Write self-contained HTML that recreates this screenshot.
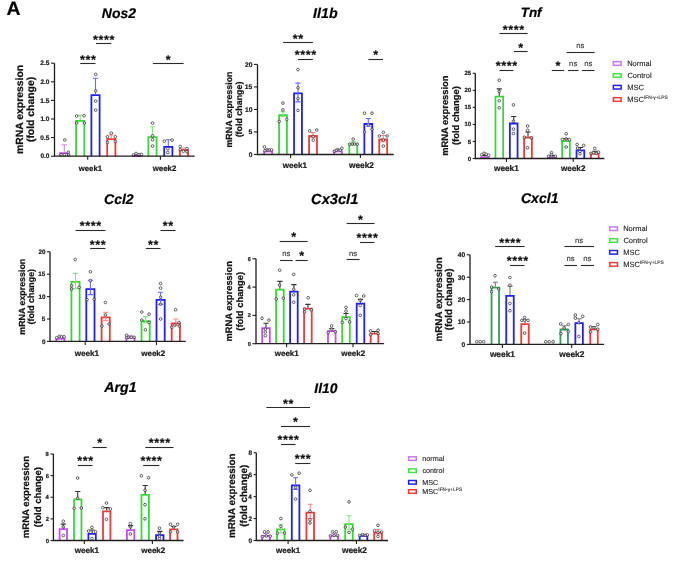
<!DOCTYPE html>
<html><head><meta charset="utf-8"><style>
html,body{margin:0;padding:0;background:#fff;width:685px;height:564px;overflow:hidden}
svg{display:block;font-family:"Liberation Sans",sans-serif;will-change:transform;text-rendering:geometricPrecision}
</style></head><body>
<svg width="685" height="564" viewBox="0 0 685 564" font-family="Liberation Sans, sans-serif">
<text stroke="#000" stroke-width="0.22" x="6.51" y="15.19" font-size="19.40" font-weight="bold" fill="#000">A</text>
<path d="M60.20 156.20V153.10H68.40V156.20" fill="#fff" stroke="#c64cf2" stroke-width="1.8"/>
<path d="M76.10 156.20V120.90H84.30V156.20" fill="#fff" stroke="#3cd63c" stroke-width="1.8"/>
<path d="M91.40 156.20V95.20H99.60V156.20" fill="#fff" stroke="#2222ea" stroke-width="1.8"/>
<path d="M107.20 156.20V139.20H115.40V156.20" fill="#fff" stroke="#ee3b3b" stroke-width="1.8"/>
<path d="M133.00 156.20V156.00H141.20V156.20" fill="#fff" stroke="#c64cf2" stroke-width="1.8"/>
<path d="M148.40 156.20V137.20H156.60V156.20" fill="#fff" stroke="#3cd63c" stroke-width="1.8"/>
<path d="M164.20 156.20V146.90H172.40V156.20" fill="#fff" stroke="#2222ea" stroke-width="1.8"/>
<path d="M179.80 156.20V150.20H188.00V156.20" fill="#fff" stroke="#ee3b3b" stroke-width="1.8"/>
<path d="M64.30 144.70V152.20M61.70 144.70H66.90" stroke="#d58cf2" stroke-width="1.1" fill="none"/>
<path d="M80.20 115.40V120.00M77.60 115.40H82.80" stroke="#86e486" stroke-width="1.1" fill="none"/>
<path d="M95.50 78.30V94.30M92.90 78.30H98.10" stroke="#6b6bf0" stroke-width="1.1" fill="none"/>
<path d="M111.30 135.00V138.30M108.70 135.00H113.90" stroke="#f28a8a" stroke-width="1.1" fill="none"/>
<path d="M137.10 154.30V155.10M134.50 154.30H139.70" stroke="#d58cf2" stroke-width="1.1" fill="none"/>
<path d="M152.50 126.70V136.30M149.90 126.70H155.10" stroke="#86e486" stroke-width="1.1" fill="none"/>
<path d="M168.30 139.70V146.00M165.70 139.70H170.90" stroke="#6b6bf0" stroke-width="1.1" fill="none"/>
<path d="M183.90 148.00V149.30M181.30 148.00H186.50" stroke="#f28a8a" stroke-width="1.1" fill="none"/>
<g fill="#fff" fill-opacity="0.6" stroke="#333" stroke-width="0.75"><circle cx="64.80" cy="139.90" r="1.35"/><circle cx="61.00" cy="154.60" r="1.35"/><circle cx="64.50" cy="154.80" r="1.35"/><circle cx="68.30" cy="152.20" r="1.35"/><circle cx="68.60" cy="155.00" r="1.35"/><circle cx="76.60" cy="116.00" r="1.35"/><circle cx="84.10" cy="115.70" r="1.35"/><circle cx="76.60" cy="123.00" r="1.35"/><circle cx="84.40" cy="123.00" r="1.35"/><circle cx="95.70" cy="74.40" r="1.35"/><circle cx="95.70" cy="90.80" r="1.35"/><circle cx="95.70" cy="101.10" r="1.35"/><circle cx="95.70" cy="110.10" r="1.35"/><circle cx="111.30" cy="133.10" r="1.35"/><circle cx="107.50" cy="136.80" r="1.35"/><circle cx="115.30" cy="136.80" r="1.35"/><circle cx="107.50" cy="142.40" r="1.35"/><circle cx="115.30" cy="141.40" r="1.35"/><circle cx="133.40" cy="155.00" r="1.35"/><circle cx="136.00" cy="153.50" r="1.35"/><circle cx="139.10" cy="154.50" r="1.35"/><circle cx="141.50" cy="154.40" r="1.35"/><circle cx="152.60" cy="123.10" r="1.35"/><circle cx="152.60" cy="135.90" r="1.35"/><circle cx="152.60" cy="139.70" r="1.35"/><circle cx="152.60" cy="146.10" r="1.35"/><circle cx="164.30" cy="141.20" r="1.35"/><circle cx="172.10" cy="140.10" r="1.35"/><circle cx="167.90" cy="148.60" r="1.35"/><circle cx="167.90" cy="152.40" r="1.35"/><circle cx="180.20" cy="146.50" r="1.35"/><circle cx="187.00" cy="148.60" r="1.35"/><circle cx="180.20" cy="149.70" r="1.35"/><circle cx="187.00" cy="151.80" r="1.35"/><circle cx="183.40" cy="151.20" r="1.35"/></g>
<path d="M54.50 63.20V156.20H194.70" stroke="#1e1e1e" stroke-width="1.3" fill="none"/>
<path d="M51.00 156.20H54.50" stroke="#1e1e1e" stroke-width="1.1"/>
<text stroke="#222" stroke-width="0.22" x="40.43" y="158.44" font-size="6.50" font-weight="bold" fill="#222">0.0</text>
<path d="M51.00 137.60H54.50" stroke="#1e1e1e" stroke-width="1.1"/>
<text stroke="#222" stroke-width="0.22" x="40.33" y="139.84" font-size="6.50" font-weight="bold" fill="#222">0.5</text>
<path d="M51.00 119.00H54.50" stroke="#1e1e1e" stroke-width="1.1"/>
<text stroke="#222" stroke-width="0.22" x="40.43" y="121.24" font-size="6.50" font-weight="bold" fill="#222">1.0</text>
<path d="M51.00 100.40H54.50" stroke="#1e1e1e" stroke-width="1.1"/>
<text stroke="#222" stroke-width="0.22" x="40.33" y="102.61" font-size="6.50" font-weight="bold" fill="#222">1.5</text>
<path d="M51.00 81.80H54.50" stroke="#1e1e1e" stroke-width="1.1"/>
<text stroke="#222" stroke-width="0.22" x="40.43" y="84.04" font-size="6.50" font-weight="bold" fill="#222">2.0</text>
<path d="M51.00 63.20H54.50" stroke="#1e1e1e" stroke-width="1.1"/>
<text stroke="#222" stroke-width="0.22" x="40.33" y="65.44" font-size="6.50" font-weight="bold" fill="#222">2.5</text>
<path d="M87.70 156.20V159.70" stroke="#1e1e1e" stroke-width="1.1"/>
<path d="M160.40 156.20V159.70" stroke="#1e1e1e" stroke-width="1.1"/>
<text stroke="#1a1a1a" stroke-width="0.22" x="78.80" y="170.56" font-size="7.73" font-weight="bold" fill="#1a1a1a">week1</text>
<text stroke="#1a1a1a" stroke-width="0.22" x="152.70" y="170.61" font-size="7.87" font-weight="bold" fill="#1a1a1a">week2</text>
<text stroke="#000" stroke-width="0.22" x="101.82" y="17.76" font-size="13.95" font-weight="bold" font-style="italic" fill="#000">Nos2</text>
<text stroke="#111" stroke-width="0.22" transform="translate(22.70,154.02) rotate(-90)" x="0" y="0" font-size="10.40" font-weight="bold" fill="#111">mRNA expression</text>
<text stroke="#111" stroke-width="0.22" transform="translate(34.10,142.06) rotate(-90)" x="0" y="0" font-size="10.40" font-weight="bold" fill="#111">(fold change)</text>
<path d="M80.20 63.50H95.50" stroke="#2a2a2a" stroke-width="1.1"/>
<text stroke="#111" stroke-width="0.22" x="79.90" y="63.51" font-size="12.50" font-weight="bold" fill="#111" letter-spacing="0.64">***</text>
<path d="M96.00 43.50H111.30" stroke="#2a2a2a" stroke-width="1.1"/>
<text stroke="#111" stroke-width="0.22" x="92.97" y="43.51" font-size="12.50" font-weight="bold" fill="#111" letter-spacing="0.64">****</text>
<path d="M152.90 63.50H183.60" stroke="#2a2a2a" stroke-width="1.1"/>
<text stroke="#111" stroke-width="0.22" x="165.81" y="63.51" font-size="12.50" font-weight="bold" fill="#111" letter-spacing="0.64">*</text>
<path d="M264.15 154.50V151.30H272.05V154.50" fill="#fff" stroke="#c64cf2" stroke-width="1.8"/>
<path d="M279.05 154.50V115.10H286.95V154.50" fill="#fff" stroke="#3cd63c" stroke-width="1.8"/>
<path d="M294.05 154.50V93.40H301.95V154.50" fill="#fff" stroke="#2222ea" stroke-width="1.8"/>
<path d="M309.05 154.50V136.00H316.95V154.50" fill="#fff" stroke="#ee3b3b" stroke-width="1.8"/>
<path d="M333.95 154.50V151.30H341.85V154.50" fill="#fff" stroke="#c64cf2" stroke-width="1.8"/>
<path d="M349.35 154.50V144.10H357.25V154.50" fill="#fff" stroke="#3cd63c" stroke-width="1.8"/>
<path d="M364.35 154.50V124.00H372.25V154.50" fill="#fff" stroke="#2222ea" stroke-width="1.8"/>
<path d="M379.25 154.50V139.50H387.15V154.50" fill="#fff" stroke="#ee3b3b" stroke-width="1.8"/>
<path d="M268.10 149.00V151.80M265.50 149.00H270.70M265.50 151.80H270.70" stroke="#d58cf2" stroke-width="1.1" fill="none"/>
<path d="M283.00 111.80V116.60M280.40 111.80H285.60M280.40 116.60H285.60" stroke="#86e486" stroke-width="1.1" fill="none"/>
<path d="M298.00 83.10V101.90M295.40 83.10H300.60M295.40 101.90H300.60" stroke="#6b6bf0" stroke-width="1.1" fill="none"/>
<path d="M313.00 132.60V137.60M310.40 132.60H315.60M310.40 137.60H315.60" stroke="#f28a8a" stroke-width="1.1" fill="none"/>
<path d="M337.90 149.50V151.30M335.30 149.50H340.50M335.30 151.30H340.50" stroke="#d58cf2" stroke-width="1.1" fill="none"/>
<path d="M353.30 141.50V144.90M350.70 141.50H355.90M350.70 144.90H355.90" stroke="#86e486" stroke-width="1.1" fill="none"/>
<path d="M368.30 118.50V126.20M365.70 118.50H370.90M365.70 126.20H370.90" stroke="#6b6bf0" stroke-width="1.1" fill="none"/>
<path d="M383.20 135.50V141.70M380.60 135.50H385.80M380.60 141.70H385.80" stroke="#f28a8a" stroke-width="1.1" fill="none"/>
<g fill="#fff" fill-opacity="0.6" stroke="#333" stroke-width="0.75"><circle cx="264.40" cy="146.90" r="1.35"/><circle cx="267.00" cy="150.00" r="1.35"/><circle cx="269.30" cy="150.00" r="1.35"/><circle cx="271.60" cy="150.00" r="1.35"/><circle cx="265.00" cy="150.70" r="1.35"/><circle cx="282.90" cy="103.10" r="1.35"/><circle cx="282.90" cy="109.90" r="1.35"/><circle cx="279.20" cy="121.50" r="1.35"/><circle cx="286.70" cy="119.40" r="1.35"/><circle cx="298.00" cy="69.60" r="1.35"/><circle cx="298.00" cy="87.80" r="1.35"/><circle cx="298.00" cy="98.60" r="1.35"/><circle cx="298.00" cy="110.40" r="1.35"/><circle cx="309.60" cy="130.90" r="1.35"/><circle cx="316.70" cy="130.00" r="1.35"/><circle cx="313.30" cy="136.50" r="1.35"/><circle cx="313.30" cy="140.30" r="1.35"/><circle cx="334.40" cy="151.40" r="1.35"/><circle cx="337.80" cy="149.60" r="1.35"/><circle cx="340.30" cy="150.20" r="1.35"/><circle cx="341.90" cy="148.30" r="1.35"/><circle cx="336.20" cy="150.40" r="1.35"/><circle cx="353.20" cy="139.10" r="1.35"/><circle cx="349.60" cy="144.20" r="1.35"/><circle cx="352.20" cy="144.00" r="1.35"/><circle cx="354.50" cy="144.00" r="1.35"/><circle cx="357.30" cy="144.20" r="1.35"/><circle cx="364.50" cy="113.20" r="1.35"/><circle cx="372.00" cy="113.20" r="1.35"/><circle cx="368.30" cy="124.70" r="1.35"/><circle cx="372.00" cy="129.30" r="1.35"/><circle cx="364.50" cy="131.90" r="1.35"/><circle cx="383.30" cy="132.40" r="1.35"/><circle cx="379.40" cy="136.00" r="1.35"/><circle cx="387.10" cy="136.00" r="1.35"/><circle cx="383.30" cy="140.10" r="1.35"/><circle cx="383.30" cy="146.10" r="1.35"/></g>
<path d="M257.50 64.40V154.50H393.70" stroke="#1e1e1e" stroke-width="1.3" fill="none"/>
<path d="M253.90 154.50H257.50" stroke="#1e1e1e" stroke-width="1.1"/>
<text stroke="#222" stroke-width="0.22" x="248.65" y="156.81" font-size="6.70" font-weight="bold" fill="#222">0</text>
<path d="M253.90 131.97H257.50" stroke="#1e1e1e" stroke-width="1.1"/>
<text stroke="#222" stroke-width="0.22" x="248.55" y="134.25" font-size="6.70" font-weight="bold" fill="#222">5</text>
<path d="M253.90 109.45H257.50" stroke="#1e1e1e" stroke-width="1.1"/>
<text stroke="#222" stroke-width="0.22" x="244.93" y="111.76" font-size="6.70" font-weight="bold" fill="#222">10</text>
<path d="M253.90 86.92H257.50" stroke="#1e1e1e" stroke-width="1.1"/>
<text stroke="#222" stroke-width="0.22" x="244.83" y="89.20" font-size="6.70" font-weight="bold" fill="#222">15</text>
<path d="M253.90 64.40H257.50" stroke="#1e1e1e" stroke-width="1.1"/>
<text stroke="#222" stroke-width="0.22" x="244.93" y="66.71" font-size="6.70" font-weight="bold" fill="#222">20</text>
<path d="M290.60 154.50V158.00" stroke="#1e1e1e" stroke-width="1.1"/>
<path d="M360.40 154.50V158.00" stroke="#1e1e1e" stroke-width="1.1"/>
<text stroke="#1a1a1a" stroke-width="0.22" x="282.80" y="168.10" font-size="8.10" font-weight="bold" fill="#1a1a1a">week1</text>
<text stroke="#1a1a1a" stroke-width="0.22" x="349.00" y="168.17" font-size="8.31" font-weight="bold" fill="#1a1a1a">week2</text>
<text stroke="#000" stroke-width="0.22" x="313.12" y="18.47" font-size="14.19" font-weight="bold" font-style="italic" fill="#000">Il1b</text>
<text stroke="#111" stroke-width="0.22" transform="translate(232.00,147.58) rotate(-90)" x="0" y="0" font-size="8.90" font-weight="bold" fill="#111">mRNA expression</text>
<text stroke="#111" stroke-width="0.22" transform="translate(241.90,137.35) rotate(-90)" x="0" y="0" font-size="8.90" font-weight="bold" fill="#111">(fold change)</text>
<path d="M283.10 42.50H312.90" stroke="#2a2a2a" stroke-width="1.1"/>
<text stroke="#111" stroke-width="0.22" x="292.81" y="42.91" font-size="12.50" font-weight="bold" fill="#111" letter-spacing="0.64">**</text>
<path d="M298.00 59.50H312.90" stroke="#2a2a2a" stroke-width="1.1"/>
<text stroke="#111" stroke-width="0.22" x="294.77" y="59.01" font-size="12.50" font-weight="bold" fill="#111" letter-spacing="0.64">****</text>
<path d="M368.50 59.50H383.00" stroke="#2a2a2a" stroke-width="1.1"/>
<text stroke="#111" stroke-width="0.22" x="373.31" y="59.01" font-size="12.50" font-weight="bold" fill="#111" letter-spacing="0.64">*</text>
<path d="M480.85 158.50V157.40H488.55V158.50" fill="#fff" stroke="#c64cf2" stroke-width="1.8"/>
<path d="M495.45 158.50V96.60H503.15V158.50" fill="#fff" stroke="#3cd63c" stroke-width="1.8"/>
<path d="M509.85 158.50V123.50H517.55V158.50" fill="#fff" stroke="#2222ea" stroke-width="1.8"/>
<path d="M524.15 158.50V137.50H531.85V158.50" fill="#fff" stroke="#ee3b3b" stroke-width="1.8"/>
<path d="M548.15 158.50V157.40H555.85V158.50" fill="#fff" stroke="#c64cf2" stroke-width="1.8"/>
<path d="M562.15 158.50V141.10H569.85V158.50" fill="#fff" stroke="#3cd63c" stroke-width="1.8"/>
<path d="M576.55 158.50V150.30H584.25V158.50" fill="#fff" stroke="#2222ea" stroke-width="1.8"/>
<path d="M590.95 158.50V153.60H598.65V158.50" fill="#fff" stroke="#ee3b3b" stroke-width="1.8"/>
<path d="M484.70 155.50V156.50M482.10 155.50H487.30" stroke="#333" stroke-width="1.1" fill="none"/>
<path d="M499.30 88.90V95.70M496.70 88.90H501.90" stroke="#333" stroke-width="1.1" fill="none"/>
<path d="M513.70 116.50V122.60M511.10 116.50H516.30" stroke="#333" stroke-width="1.1" fill="none"/>
<path d="M528.00 132.00V136.60M525.40 132.00H530.60" stroke="#333" stroke-width="1.1" fill="none"/>
<path d="M552.00 155.50V156.50M549.40 155.50H554.60" stroke="#333" stroke-width="1.1" fill="none"/>
<path d="M566.00 138.50V140.20M563.40 138.50H568.60" stroke="#333" stroke-width="1.1" fill="none"/>
<path d="M580.40 147.50V149.40M577.80 147.50H583.00" stroke="#333" stroke-width="1.1" fill="none"/>
<path d="M594.80 151.20V152.70M592.20 151.20H597.40" stroke="#333" stroke-width="1.1" fill="none"/>
<g fill="#fff" fill-opacity="0.6" stroke="#333" stroke-width="0.75"><circle cx="481.80" cy="154.70" r="1.35"/><circle cx="484.00" cy="153.30" r="1.35"/><circle cx="486.20" cy="154.30" r="1.35"/><circle cx="488.60" cy="155.30" r="1.35"/><circle cx="499.20" cy="80.20" r="1.35"/><circle cx="499.20" cy="91.40" r="1.35"/><circle cx="499.20" cy="100.80" r="1.35"/><circle cx="499.20" cy="107.80" r="1.35"/><circle cx="513.50" cy="104.90" r="1.35"/><circle cx="513.50" cy="121.30" r="1.35"/><circle cx="513.50" cy="129.10" r="1.35"/><circle cx="513.50" cy="133.50" r="1.35"/><circle cx="527.60" cy="126.00" r="1.35"/><circle cx="527.60" cy="130.30" r="1.35"/><circle cx="524.40" cy="137.30" r="1.35"/><circle cx="531.50" cy="137.90" r="1.35"/><circle cx="527.60" cy="147.70" r="1.35"/><circle cx="551.50" cy="152.70" r="1.35"/><circle cx="548.60" cy="156.20" r="1.35"/><circle cx="551.50" cy="156.50" r="1.35"/><circle cx="555.30" cy="156.20" r="1.35"/><circle cx="551.50" cy="154.60" r="1.35"/><circle cx="566.20" cy="133.80" r="1.35"/><circle cx="562.40" cy="139.50" r="1.35"/><circle cx="566.20" cy="139.00" r="1.35"/><circle cx="569.50" cy="139.70" r="1.35"/><circle cx="566.20" cy="147.00" r="1.35"/><circle cx="577.10" cy="144.50" r="1.35"/><circle cx="583.70" cy="145.40" r="1.35"/><circle cx="577.60" cy="148.00" r="1.35"/><circle cx="580.00" cy="151.30" r="1.35"/><circle cx="580.00" cy="153.70" r="1.35"/><circle cx="594.70" cy="148.30" r="1.35"/><circle cx="590.90" cy="153.40" r="1.35"/><circle cx="593.70" cy="152.70" r="1.35"/><circle cx="596.30" cy="153.40" r="1.35"/><circle cx="598.50" cy="152.10" r="1.35"/></g>
<path d="M475.30 73.30V158.50H604.40" stroke="#1e1e1e" stroke-width="1.3" fill="none"/>
<path d="M472.70 158.50H475.30" stroke="#1e1e1e" stroke-width="1.1"/>
<text stroke="#222" stroke-width="0.22" x="467.81" y="160.57" font-size="6.00" font-weight="bold" fill="#222">0</text>
<path d="M472.70 141.46H475.30" stroke="#1e1e1e" stroke-width="1.1"/>
<text stroke="#222" stroke-width="0.22" x="467.72" y="143.50" font-size="6.00" font-weight="bold" fill="#222">5</text>
<path d="M472.70 124.42H475.30" stroke="#1e1e1e" stroke-width="1.1"/>
<text stroke="#222" stroke-width="0.22" x="464.48" y="126.49" font-size="6.00" font-weight="bold" fill="#222">10</text>
<path d="M472.70 107.38H475.30" stroke="#1e1e1e" stroke-width="1.1"/>
<text stroke="#222" stroke-width="0.22" x="464.39" y="109.42" font-size="6.00" font-weight="bold" fill="#222">15</text>
<path d="M472.70 90.34H475.30" stroke="#1e1e1e" stroke-width="1.1"/>
<text stroke="#222" stroke-width="0.22" x="464.48" y="92.41" font-size="6.00" font-weight="bold" fill="#222">20</text>
<path d="M472.70 73.30H475.30" stroke="#1e1e1e" stroke-width="1.1"/>
<text stroke="#222" stroke-width="0.22" x="464.39" y="75.37" font-size="6.00" font-weight="bold" fill="#222">25</text>
<path d="M506.40 158.50V162.00" stroke="#1e1e1e" stroke-width="1.1"/>
<path d="M573.20 158.50V162.00" stroke="#1e1e1e" stroke-width="1.1"/>
<text stroke="#1a1a1a" stroke-width="0.22" x="494.00" y="170.96" font-size="8.27" font-weight="bold" fill="#1a1a1a">week1</text>
<text stroke="#1a1a1a" stroke-width="0.22" x="561.00" y="170.91" font-size="8.14" font-weight="bold" fill="#1a1a1a">week2</text>
<text stroke="#000" stroke-width="0.22" x="520.66" y="17.49" font-size="13.48" font-weight="bold" font-style="italic" fill="#000">Tnf</text>
<text stroke="#111" stroke-width="0.22" transform="translate(448.10,155.83) rotate(-90)" x="0" y="0" font-size="9.40" font-weight="bold" fill="#111">mRNA expression</text>
<text stroke="#111" stroke-width="0.22" transform="translate(458.90,145.02) rotate(-90)" x="0" y="0" font-size="9.40" font-weight="bold" fill="#111">(fold change)</text>
<path d="M499.50 33.50H527.60" stroke="#2a2a2a" stroke-width="1.1"/>
<text stroke="#111" stroke-width="0.22" x="502.87" y="33.81" font-size="12.50" font-weight="bold" fill="#111" letter-spacing="0.64">****</text>
<path d="M514.00 51.50H527.60" stroke="#2a2a2a" stroke-width="1.1"/>
<text stroke="#111" stroke-width="0.22" x="518.36" y="51.91" font-size="12.50" font-weight="bold" fill="#111" letter-spacing="0.64">*</text>
<path d="M499.50 70.50H513.50" stroke="#2a2a2a" stroke-width="1.1"/>
<text stroke="#111" stroke-width="0.22" x="495.82" y="70.01" font-size="12.50" font-weight="bold" fill="#111" letter-spacing="0.64">****</text>
<path d="M566.40 52.50H594.60" stroke="#2a2a2a" stroke-width="1.1"/>
<text stroke="#333" stroke-width="0.12" x="576.32" y="48.14" font-size="7.70"  fill="#333">ns</text>
<path d="M551.80 70.50H564.00" stroke="#2a2a2a" stroke-width="1.1"/>
<text stroke="#111" stroke-width="0.22" x="555.46" y="70.01" font-size="12.50" font-weight="bold" fill="#111" letter-spacing="0.64">*</text>
<path d="M568.00 70.50H578.60" stroke="#2a2a2a" stroke-width="1.1"/>
<text stroke="#333" stroke-width="0.12" x="569.12" y="65.94" font-size="7.70"  fill="#333">ns</text>
<path d="M582.10 70.50H594.60" stroke="#2a2a2a" stroke-width="1.1"/>
<text stroke="#333" stroke-width="0.12" x="584.17" y="65.94" font-size="7.70"  fill="#333">ns</text>
<rect x="613.35" y="61.70" width="7.80" height="3.60" fill="#fff" stroke="#c77cf7" stroke-width="1.5"/>
<text stroke="#1e1e1e" stroke-width="0.12" x="627.20" y="66.18" font-size="7.50"  fill="#1e1e1e">Normal</text>
<rect x="613.35" y="73.70" width="7.80" height="3.60" fill="#fff" stroke="#44e044" stroke-width="1.5"/>
<text stroke="#1e1e1e" stroke-width="0.12" x="627.42" y="78.18" font-size="7.50"  fill="#1e1e1e">Control</text>
<rect x="613.35" y="85.40" width="7.80" height="3.60" fill="#fff" stroke="#2222ea" stroke-width="1.5"/>
<text stroke="#1e1e1e" stroke-width="0.12" x="627.20" y="89.79" font-size="7.50"  fill="#1e1e1e">MSC</text>
<rect x="613.35" y="97.70" width="7.80" height="3.60" fill="#fff" stroke="#ee3b3b" stroke-width="1.5"/>
<text stroke="#1e1e1e" stroke-width="0.12" x="627.20" y="102.09" font-size="7.50"  fill="#1e1e1e">MSC</text>
<text stroke="#333" stroke-width="0.12" x="643.95" y="98.79" font-size="4.85" fill="#333">IFN-γ+LPS</text>
<path d="M56.30 341.40V338.90H64.50V341.40" fill="#fff" stroke="#c64cf2" stroke-width="1.8"/>
<path d="M71.40 341.40V281.90H79.60V341.40" fill="#fff" stroke="#3cd63c" stroke-width="1.8"/>
<path d="M86.30 341.40V289.10H94.50V341.40" fill="#fff" stroke="#2222ea" stroke-width="1.8"/>
<path d="M101.60 341.40V317.40H109.80V341.40" fill="#fff" stroke="#ee3b3b" stroke-width="1.8"/>
<path d="M126.40 341.40V337.70H134.60V341.40" fill="#fff" stroke="#c64cf2" stroke-width="1.8"/>
<path d="M141.50 341.40V321.20H149.70V341.40" fill="#fff" stroke="#3cd63c" stroke-width="1.8"/>
<path d="M156.50 341.40V299.90H164.70V341.40" fill="#fff" stroke="#2222ea" stroke-width="1.8"/>
<path d="M171.70 341.40V323.30H179.90V341.40" fill="#fff" stroke="#ee3b3b" stroke-width="1.8"/>
<path d="M60.40 336.50V339.50M57.80 336.50H63.00M57.80 339.50H63.00" stroke="#d58cf2" stroke-width="1.1" fill="none"/>
<path d="M75.50 273.40V288.60M72.90 273.40H78.10M72.90 288.60H78.10" stroke="#86e486" stroke-width="1.1" fill="none"/>
<path d="M90.40 280.20V294.60M87.80 280.20H93.00M87.80 294.60H93.00" stroke="#6b6bf0" stroke-width="1.1" fill="none"/>
<path d="M105.70 312.20V320.50M103.10 312.20H108.30M103.10 320.50H108.30" stroke="#f28a8a" stroke-width="1.1" fill="none"/>
<path d="M130.50 335.80V337.80M127.90 335.80H133.10M127.90 337.80H133.10" stroke="#d58cf2" stroke-width="1.1" fill="none"/>
<path d="M145.60 316.60V322.60M143.00 316.60H148.20M143.00 322.60H148.20" stroke="#86e486" stroke-width="1.1" fill="none"/>
<path d="M160.60 292.30V304.40M158.00 292.30H163.20M158.00 304.40H163.20" stroke="#6b6bf0" stroke-width="1.1" fill="none"/>
<path d="M175.80 319.00V325.80M173.20 319.00H178.40M173.20 325.80H178.40" stroke="#f28a8a" stroke-width="1.1" fill="none"/>
<g fill="#fff" fill-opacity="0.6" stroke="#333" stroke-width="0.75"><circle cx="56.70" cy="337.70" r="1.35"/><circle cx="59.30" cy="336.40" r="1.35"/><circle cx="61.50" cy="336.80" r="1.35"/><circle cx="64.10" cy="336.80" r="1.35"/><circle cx="75.20" cy="259.50" r="1.35"/><circle cx="71.60" cy="285.80" r="1.35"/><circle cx="71.60" cy="289.00" r="1.35"/><circle cx="79.10" cy="287.40" r="1.35"/><circle cx="90.40" cy="271.80" r="1.35"/><circle cx="90.40" cy="280.60" r="1.35"/><circle cx="87.00" cy="299.70" r="1.35"/><circle cx="94.20" cy="299.40" r="1.35"/><circle cx="105.40" cy="302.40" r="1.35"/><circle cx="105.40" cy="314.90" r="1.35"/><circle cx="101.90" cy="326.10" r="1.35"/><circle cx="109.10" cy="324.10" r="1.35"/><circle cx="126.60" cy="335.30" r="1.35"/><circle cx="128.30" cy="337.30" r="1.35"/><circle cx="131.20" cy="337.30" r="1.35"/><circle cx="134.10" cy="337.30" r="1.35"/><circle cx="126.60" cy="337.60" r="1.35"/><circle cx="141.80" cy="312.00" r="1.35"/><circle cx="149.10" cy="314.20" r="1.35"/><circle cx="141.80" cy="320.10" r="1.35"/><circle cx="149.10" cy="322.40" r="1.35"/><circle cx="145.40" cy="329.80" r="1.35"/><circle cx="160.60" cy="283.50" r="1.35"/><circle cx="160.60" cy="288.10" r="1.35"/><circle cx="160.60" cy="297.30" r="1.35"/><circle cx="160.60" cy="304.20" r="1.35"/><circle cx="160.60" cy="319.00" r="1.35"/><circle cx="175.60" cy="309.70" r="1.35"/><circle cx="171.80" cy="327.30" r="1.35"/><circle cx="175.00" cy="325.00" r="1.35"/><circle cx="179.00" cy="322.60" r="1.35"/><circle cx="179.40" cy="326.10" r="1.35"/></g>
<path d="M50.00 251.80V341.40H185.80" stroke="#1e1e1e" stroke-width="1.3" fill="none"/>
<path d="M47.00 341.40H50.00" stroke="#1e1e1e" stroke-width="1.1"/>
<text stroke="#222" stroke-width="0.22" x="41.96" y="343.57" font-size="6.30" font-weight="bold" fill="#222">0</text>
<path d="M47.00 319.00H50.00" stroke="#1e1e1e" stroke-width="1.1"/>
<text stroke="#222" stroke-width="0.22" x="41.86" y="321.14" font-size="6.30" font-weight="bold" fill="#222">5</text>
<path d="M47.00 296.60H50.00" stroke="#1e1e1e" stroke-width="1.1"/>
<text stroke="#222" stroke-width="0.22" x="38.46" y="298.77" font-size="6.30" font-weight="bold" fill="#222">10</text>
<path d="M47.00 274.20H50.00" stroke="#1e1e1e" stroke-width="1.1"/>
<text stroke="#222" stroke-width="0.22" x="38.36" y="276.34" font-size="6.30" font-weight="bold" fill="#222">15</text>
<path d="M47.00 251.80H50.00" stroke="#1e1e1e" stroke-width="1.1"/>
<text stroke="#222" stroke-width="0.22" x="38.46" y="253.97" font-size="6.30" font-weight="bold" fill="#222">20</text>
<path d="M85.20 341.40V344.90" stroke="#1e1e1e" stroke-width="1.1"/>
<path d="M156.40 341.40V344.90" stroke="#1e1e1e" stroke-width="1.1"/>
<text stroke="#1a1a1a" stroke-width="0.22" x="74.80" y="355.80" font-size="8.10" font-weight="bold" fill="#1a1a1a">week1</text>
<text stroke="#1a1a1a" stroke-width="0.22" x="141.20" y="355.77" font-size="8.04" font-weight="bold" fill="#1a1a1a">week2</text>
<text stroke="#000" stroke-width="0.22" x="104.00" y="203.72" font-size="14.05" font-weight="bold" font-style="italic" fill="#000">Ccl2</text>
<text stroke="#111" stroke-width="0.22" transform="translate(24.50,334.67) rotate(-90)" x="0" y="0" font-size="8.85" font-weight="bold" fill="#111">mRNA expression</text>
<text stroke="#111" stroke-width="0.22" transform="translate(34.40,324.49) rotate(-90)" x="0" y="0" font-size="8.85" font-weight="bold" fill="#111">(fold change)</text>
<path d="M75.60 230.50H105.40" stroke="#2a2a2a" stroke-width="1.1"/>
<text stroke="#111" stroke-width="0.22" x="79.82" y="230.31" font-size="12.50" font-weight="bold" fill="#111" letter-spacing="0.64">****</text>
<path d="M90.20 248.50H105.40" stroke="#2a2a2a" stroke-width="1.1"/>
<text stroke="#111" stroke-width="0.22" x="89.85" y="248.71" font-size="12.50" font-weight="bold" fill="#111" letter-spacing="0.64">***</text>
<path d="M160.50 230.50H175.60" stroke="#2a2a2a" stroke-width="1.1"/>
<text stroke="#111" stroke-width="0.22" x="162.86" y="230.31" font-size="12.50" font-weight="bold" fill="#111" letter-spacing="0.64">**</text>
<path d="M145.80 248.50H160.50" stroke="#2a2a2a" stroke-width="1.1"/>
<text stroke="#111" stroke-width="0.22" x="147.96" y="248.71" font-size="12.50" font-weight="bold" fill="#111" letter-spacing="0.64">**</text>
<path d="M262.20 343.70V328.10H269.80V343.70" fill="#fff" stroke="#c64cf2" stroke-width="1.8"/>
<path d="M276.10 343.70V289.70H283.70V343.70" fill="#fff" stroke="#3cd63c" stroke-width="1.8"/>
<path d="M290.10 343.70V291.60H297.70V343.70" fill="#fff" stroke="#2222ea" stroke-width="1.8"/>
<path d="M304.10 343.70V308.60H311.70V343.70" fill="#fff" stroke="#ee3b3b" stroke-width="1.8"/>
<path d="M328.00 343.70V331.10H335.60V343.70" fill="#fff" stroke="#c64cf2" stroke-width="1.8"/>
<path d="M342.20 343.70V317.20H349.80V343.70" fill="#fff" stroke="#3cd63c" stroke-width="1.8"/>
<path d="M356.70 343.70V303.60H364.30V343.70" fill="#fff" stroke="#2222ea" stroke-width="1.8"/>
<path d="M370.70 343.70V333.60H378.30V343.70" fill="#fff" stroke="#ee3b3b" stroke-width="1.8"/>
<path d="M266.00 323.30V327.20M263.40 323.30H268.60" stroke="#333" stroke-width="1.1" fill="none"/>
<path d="M279.90 281.40V288.80M277.30 281.40H282.50" stroke="#333" stroke-width="1.1" fill="none"/>
<path d="M293.90 284.60V290.70M291.30 284.60H296.50" stroke="#333" stroke-width="1.1" fill="none"/>
<path d="M307.90 304.40V307.70M305.30 304.40H310.50" stroke="#333" stroke-width="1.1" fill="none"/>
<path d="M331.80 328.50V330.20M329.20 328.50H334.40" stroke="#333" stroke-width="1.1" fill="none"/>
<path d="M346.00 313.50V316.30M343.40 313.50H348.60" stroke="#333" stroke-width="1.1" fill="none"/>
<path d="M360.50 299.40V302.70M357.90 299.40H363.10" stroke="#333" stroke-width="1.1" fill="none"/>
<path d="M374.50 331.50V332.70M371.90 331.50H377.10" stroke="#333" stroke-width="1.1" fill="none"/>
<g fill="#fff" fill-opacity="0.6" stroke="#333" stroke-width="0.75"><circle cx="262.00" cy="318.30" r="1.35"/><circle cx="268.90" cy="320.10" r="1.35"/><circle cx="265.40" cy="329.00" r="1.35"/><circle cx="265.40" cy="332.00" r="1.35"/><circle cx="265.40" cy="335.70" r="1.35"/><circle cx="279.60" cy="270.20" r="1.35"/><circle cx="279.60" cy="285.10" r="1.35"/><circle cx="276.30" cy="298.90" r="1.35"/><circle cx="283.30" cy="298.20" r="1.35"/><circle cx="293.70" cy="274.40" r="1.35"/><circle cx="293.70" cy="289.20" r="1.35"/><circle cx="293.70" cy="294.80" r="1.35"/><circle cx="293.70" cy="302.20" r="1.35"/><circle cx="308.20" cy="297.70" r="1.35"/><circle cx="304.60" cy="308.90" r="1.35"/><circle cx="304.60" cy="311.90" r="1.35"/><circle cx="311.30" cy="309.90" r="1.35"/><circle cx="331.60" cy="325.90" r="1.35"/><circle cx="331.60" cy="329.20" r="1.35"/><circle cx="328.20" cy="332.50" r="1.35"/><circle cx="335.20" cy="331.70" r="1.35"/><circle cx="346.00" cy="307.40" r="1.35"/><circle cx="346.00" cy="311.10" r="1.35"/><circle cx="346.00" cy="318.50" r="1.35"/><circle cx="342.30" cy="322.40" r="1.35"/><circle cx="349.60" cy="321.80" r="1.35"/><circle cx="356.50" cy="295.50" r="1.35"/><circle cx="363.70" cy="296.00" r="1.35"/><circle cx="360.20" cy="300.20" r="1.35"/><circle cx="360.20" cy="305.40" r="1.35"/><circle cx="360.20" cy="315.30" r="1.35"/><circle cx="370.60" cy="330.90" r="1.35"/><circle cx="378.10" cy="330.20" r="1.35"/><circle cx="370.60" cy="334.70" r="1.35"/><circle cx="378.10" cy="333.50" r="1.35"/></g>
<path d="M256.00 258.80V343.70H384.10" stroke="#1e1e1e" stroke-width="1.3" fill="none"/>
<path d="M252.40 343.70H256.00" stroke="#1e1e1e" stroke-width="1.1"/>
<text stroke="#222" stroke-width="0.22" x="247.72" y="345.63" font-size="5.60" font-weight="bold" fill="#222">0</text>
<path d="M252.40 315.40H256.00" stroke="#1e1e1e" stroke-width="1.1"/>
<text stroke="#222" stroke-width="0.22" x="247.72" y="317.36" font-size="5.60" font-weight="bold" fill="#222">2</text>
<path d="M252.40 287.10H256.00" stroke="#1e1e1e" stroke-width="1.1"/>
<text stroke="#222" stroke-width="0.22" x="247.52" y="289.03" font-size="5.60" font-weight="bold" fill="#222">4</text>
<path d="M252.40 258.80H256.00" stroke="#1e1e1e" stroke-width="1.1"/>
<text stroke="#222" stroke-width="0.22" x="247.69" y="260.73" font-size="5.60" font-weight="bold" fill="#222">6</text>
<path d="M286.60 343.70V347.20" stroke="#1e1e1e" stroke-width="1.1"/>
<path d="M353.00 343.70V347.20" stroke="#1e1e1e" stroke-width="1.1"/>
<text stroke="#1a1a1a" stroke-width="0.22" x="274.80" y="355.85" font-size="7.97" font-weight="bold" fill="#1a1a1a">week1</text>
<text stroke="#1a1a1a" stroke-width="0.22" x="341.20" y="355.85" font-size="7.97" font-weight="bold" fill="#1a1a1a">week2</text>
<text stroke="#000" stroke-width="0.22" x="311.07" y="204.09" font-size="14.65" font-weight="bold" font-style="italic" fill="#000">Cx3cl1</text>
<text stroke="#111" stroke-width="0.22" transform="translate(232.20,341.53) rotate(-90)" x="0" y="0" font-size="9.40" font-weight="bold" fill="#111">mRNA expression</text>
<text stroke="#111" stroke-width="0.22" transform="translate(242.70,330.72) rotate(-90)" x="0" y="0" font-size="9.40" font-weight="bold" fill="#111">(fold change)</text>
<path d="M279.70 241.50H307.70" stroke="#2a2a2a" stroke-width="1.1"/>
<text stroke="#111" stroke-width="0.22" x="291.26" y="241.41" font-size="12.50" font-weight="bold" fill="#111" letter-spacing="0.64">*</text>
<path d="M280.00 260.50H292.70" stroke="#2a2a2a" stroke-width="1.1"/>
<text stroke="#333" stroke-width="0.12" x="282.17" y="256.04" font-size="7.70"  fill="#333">ns</text>
<path d="M295.60 260.50H307.70" stroke="#2a2a2a" stroke-width="1.1"/>
<text stroke="#111" stroke-width="0.22" x="299.21" y="260.11" font-size="12.50" font-weight="bold" fill="#111" letter-spacing="0.64">*</text>
<path d="M346.60 223.50H374.50" stroke="#2a2a2a" stroke-width="1.1"/>
<text stroke="#111" stroke-width="0.22" x="358.11" y="223.51" font-size="12.50" font-weight="bold" fill="#111" letter-spacing="0.64">*</text>
<path d="M360.00 242.50H374.50" stroke="#2a2a2a" stroke-width="1.1"/>
<text stroke="#111" stroke-width="0.22" x="356.57" y="242.21" font-size="12.50" font-weight="bold" fill="#111" letter-spacing="0.64">****</text>
<path d="M346.60 259.50H359.60" stroke="#2a2a2a" stroke-width="1.1"/>
<text stroke="#333" stroke-width="0.12" x="348.92" y="255.84" font-size="7.70"  fill="#333">ns</text>
<path d="M491.55 344.40V287.60H499.05V344.40" fill="#fff" stroke="#3a9a5c" stroke-width="1.8"/>
<path d="M506.25 344.40V295.90H513.75V344.40" fill="#fff" stroke="#2222ea" stroke-width="1.8"/>
<path d="M521.25 344.40V324.20H528.75V344.40" fill="#fff" stroke="#ee3b3b" stroke-width="1.8"/>
<path d="M560.45 344.40V329.50H567.95V344.40" fill="#fff" stroke="#3a9a5c" stroke-width="1.8"/>
<path d="M575.35 344.40V323.10H582.85V344.40" fill="#fff" stroke="#2222ea" stroke-width="1.8"/>
<path d="M590.25 344.40V329.30H597.75V344.40" fill="#fff" stroke="#ee3b3b" stroke-width="1.8"/>
<path d="M495.30 282.30V286.70M492.70 282.30H497.90" stroke="#777" stroke-width="1.1" fill="none"/>
<path d="M510.00 286.10V295.00M507.40 286.10H512.60" stroke="#777" stroke-width="1.1" fill="none"/>
<path d="M525.00 319.80V323.30M522.40 319.80H527.60" stroke="#777" stroke-width="1.1" fill="none"/>
<path d="M564.20 325.80V328.60M561.60 325.80H566.80" stroke="#777" stroke-width="1.1" fill="none"/>
<path d="M579.10 318.70V322.20M576.50 318.70H581.70" stroke="#777" stroke-width="1.1" fill="none"/>
<path d="M594.00 326.50V328.40M591.40 326.50H596.60" stroke="#777" stroke-width="1.1" fill="none"/>
<g fill="#fff" fill-opacity="0.6" stroke="#333" stroke-width="0.75"><circle cx="476.80" cy="341.70" r="1.35"/><circle cx="480.20" cy="341.70" r="1.35"/><circle cx="483.70" cy="341.70" r="1.35"/><circle cx="495.00" cy="275.70" r="1.35"/><circle cx="491.60" cy="287.10" r="1.35"/><circle cx="498.70" cy="289.10" r="1.35"/><circle cx="491.60" cy="291.60" r="1.35"/><circle cx="509.90" cy="277.50" r="1.35"/><circle cx="509.90" cy="285.30" r="1.35"/><circle cx="509.90" cy="303.50" r="1.35"/><circle cx="509.90" cy="310.70" r="1.35"/><circle cx="524.60" cy="317.50" r="1.35"/><circle cx="521.90" cy="320.30" r="1.35"/><circle cx="524.60" cy="320.30" r="1.35"/><circle cx="528.00" cy="320.30" r="1.35"/><circle cx="524.60" cy="333.10" r="1.35"/><circle cx="545.70" cy="341.80" r="1.35"/><circle cx="549.20" cy="341.80" r="1.35"/><circle cx="553.10" cy="341.80" r="1.35"/><circle cx="560.70" cy="323.90" r="1.35"/><circle cx="568.30" cy="324.50" r="1.35"/><circle cx="564.20" cy="328.00" r="1.35"/><circle cx="568.30" cy="331.50" r="1.35"/><circle cx="560.90" cy="333.60" r="1.35"/><circle cx="575.30" cy="315.00" r="1.35"/><circle cx="575.30" cy="318.10" r="1.35"/><circle cx="582.70" cy="316.40" r="1.35"/><circle cx="578.80" cy="322.80" r="1.35"/><circle cx="578.80" cy="336.40" r="1.35"/><circle cx="590.50" cy="326.90" r="1.35"/><circle cx="594.00" cy="327.80" r="1.35"/><circle cx="597.80" cy="324.50" r="1.35"/><circle cx="597.80" cy="329.20" r="1.35"/><circle cx="590.50" cy="331.80" r="1.35"/></g>
<path d="M470.00 254.80V344.40H604.10" stroke="#1e1e1e" stroke-width="1.3" fill="none"/>
<path d="M466.80 344.40H470.00" stroke="#1e1e1e" stroke-width="1.1"/>
<text stroke="#222" stroke-width="0.22" x="461.55" y="346.71" font-size="6.70" font-weight="bold" fill="#222">0</text>
<path d="M466.80 322.00H470.00" stroke="#1e1e1e" stroke-width="1.1"/>
<text stroke="#222" stroke-width="0.22" x="457.83" y="324.31" font-size="6.70" font-weight="bold" fill="#222">10</text>
<path d="M466.80 299.60H470.00" stroke="#1e1e1e" stroke-width="1.1"/>
<text stroke="#222" stroke-width="0.22" x="457.83" y="301.91" font-size="6.70" font-weight="bold" fill="#222">20</text>
<path d="M466.80 277.20H470.00" stroke="#1e1e1e" stroke-width="1.1"/>
<text stroke="#222" stroke-width="0.22" x="457.83" y="279.51" font-size="6.70" font-weight="bold" fill="#222">30</text>
<path d="M466.80 254.80H470.00" stroke="#1e1e1e" stroke-width="1.1"/>
<text stroke="#222" stroke-width="0.22" x="457.83" y="257.11" font-size="6.70" font-weight="bold" fill="#222">40</text>
<path d="M502.40 344.40V347.90" stroke="#1e1e1e" stroke-width="1.1"/>
<path d="M571.70 344.40V347.90" stroke="#1e1e1e" stroke-width="1.1"/>
<text stroke="#1a1a1a" stroke-width="0.22" x="489.90" y="356.63" font-size="8.34" font-weight="bold" fill="#1a1a1a">week1</text>
<text stroke="#1a1a1a" stroke-width="0.22" x="559.30" y="356.63" font-size="8.34" font-weight="bold" fill="#1a1a1a">week2</text>
<text stroke="#000" stroke-width="0.22" x="520.89" y="203.36" font-size="14.14" font-weight="bold" font-style="italic" fill="#000">Cxcl1</text>
<text stroke="#111" stroke-width="0.22" transform="translate(442.20,341.56) rotate(-90)" x="0" y="0" font-size="9.85" font-weight="bold" fill="#111">mRNA expression</text>
<text stroke="#111" stroke-width="0.22" transform="translate(452.40,330.23) rotate(-90)" x="0" y="0" font-size="9.85" font-weight="bold" fill="#111">(fold change)</text>
<path d="M495.10 246.50H524.60" stroke="#2a2a2a" stroke-width="1.1"/>
<text stroke="#111" stroke-width="0.22" x="499.17" y="246.71" font-size="12.50" font-weight="bold" fill="#111" letter-spacing="0.64">****</text>
<path d="M510.10 265.50H524.60" stroke="#2a2a2a" stroke-width="1.1"/>
<text stroke="#111" stroke-width="0.22" x="506.67" y="265.41" font-size="12.50" font-weight="bold" fill="#111" letter-spacing="0.64">****</text>
<path d="M564.40 246.50H594.00" stroke="#2a2a2a" stroke-width="1.1"/>
<text stroke="#333" stroke-width="0.12" x="575.02" y="242.64" font-size="7.70"  fill="#333">ns</text>
<path d="M564.40 265.50H577.00" stroke="#2a2a2a" stroke-width="1.1"/>
<text stroke="#333" stroke-width="0.12" x="566.52" y="261.34" font-size="7.70"  fill="#333">ns</text>
<path d="M581.00 265.50H594.00" stroke="#2a2a2a" stroke-width="1.1"/>
<text stroke="#333" stroke-width="0.12" x="583.32" y="261.34" font-size="7.70"  fill="#333">ns</text>
<rect x="609.65" y="226.90" width="7.80" height="3.60" fill="#fff" stroke="#c77cf7" stroke-width="1.5"/>
<text stroke="#1e1e1e" stroke-width="0.12" x="623.20" y="231.38" font-size="7.50"  fill="#1e1e1e">Normal</text>
<rect x="609.65" y="238.70" width="7.80" height="3.60" fill="#fff" stroke="#44e044" stroke-width="1.5"/>
<text stroke="#1e1e1e" stroke-width="0.12" x="623.42" y="243.18" font-size="7.50"  fill="#1e1e1e">Control</text>
<rect x="609.65" y="250.50" width="7.80" height="3.60" fill="#fff" stroke="#2222ea" stroke-width="1.5"/>
<text stroke="#1e1e1e" stroke-width="0.12" x="623.20" y="254.89" font-size="7.50"  fill="#1e1e1e">MSC</text>
<rect x="609.65" y="262.60" width="7.80" height="3.60" fill="#fff" stroke="#ee3b3b" stroke-width="1.5"/>
<text stroke="#1e1e1e" stroke-width="0.12" x="623.20" y="266.99" font-size="7.50"  fill="#1e1e1e">MSC</text>
<text stroke="#333" stroke-width="0.12" x="639.95" y="263.69" font-size="4.85" fill="#333">IFN-γ+LPS</text>
<path d="M59.60 540.50V529.20H67.00V540.50" fill="#fff" stroke="#c64cf2" stroke-width="1.8"/>
<path d="M74.05 540.50V499.40H81.45V540.50" fill="#fff" stroke="#3cd63c" stroke-width="1.8"/>
<path d="M88.40 540.50V533.80H95.80V540.50" fill="#fff" stroke="#2222ea" stroke-width="1.8"/>
<path d="M103.00 540.50V511.40H110.40V540.50" fill="#fff" stroke="#ee3b3b" stroke-width="1.8"/>
<path d="M126.90 540.50V530.10H134.30V540.50" fill="#fff" stroke="#c64cf2" stroke-width="1.8"/>
<path d="M141.50 540.50V494.80H148.90V540.50" fill="#fff" stroke="#3cd63c" stroke-width="1.8"/>
<path d="M156.10 540.50V535.20H163.50V540.50" fill="#fff" stroke="#2222ea" stroke-width="1.8"/>
<path d="M170.10 540.50V529.40H177.50V540.50" fill="#fff" stroke="#ee3b3b" stroke-width="1.8"/>
<path d="M63.30 524.10V528.30M60.70 524.10H65.90" stroke="#333" stroke-width="1.1" fill="none"/>
<path d="M77.75 491.50V498.50M75.15 491.50H80.35" stroke="#333" stroke-width="1.1" fill="none"/>
<path d="M92.10 530.00V532.90M89.50 530.00H94.70" stroke="#333" stroke-width="1.1" fill="none"/>
<path d="M106.70 507.60V510.50M104.10 507.60H109.30" stroke="#333" stroke-width="1.1" fill="none"/>
<path d="M130.60 525.60V529.20M128.00 525.60H133.20" stroke="#333" stroke-width="1.1" fill="none"/>
<path d="M145.20 485.50V493.90M142.60 485.50H147.80" stroke="#333" stroke-width="1.1" fill="none"/>
<path d="M159.80 531.40V534.30M157.20 531.40H162.40" stroke="#333" stroke-width="1.1" fill="none"/>
<path d="M173.80 526.50V528.50M171.20 526.50H176.40" stroke="#333" stroke-width="1.1" fill="none"/>
<g fill="#fff" fill-opacity="0.6" stroke="#333" stroke-width="0.75"><circle cx="63.30" cy="521.20" r="1.35"/><circle cx="63.30" cy="526.90" r="1.35"/><circle cx="63.30" cy="535.40" r="1.35"/><circle cx="77.70" cy="478.00" r="1.35"/><circle cx="77.70" cy="498.30" r="1.35"/><circle cx="74.20" cy="508.30" r="1.35"/><circle cx="81.30" cy="508.00" r="1.35"/><circle cx="91.90" cy="527.40" r="1.35"/><circle cx="88.70" cy="531.00" r="1.35"/><circle cx="95.50" cy="531.80" r="1.35"/><circle cx="91.90" cy="538.60" r="1.35"/><circle cx="106.50" cy="503.00" r="1.35"/><circle cx="102.80" cy="507.60" r="1.35"/><circle cx="110.40" cy="509.00" r="1.35"/><circle cx="106.50" cy="519.30" r="1.35"/><circle cx="130.40" cy="523.70" r="1.35"/><circle cx="130.40" cy="526.90" r="1.35"/><circle cx="130.40" cy="534.00" r="1.35"/><circle cx="141.40" cy="475.80" r="1.35"/><circle cx="148.50" cy="477.80" r="1.35"/><circle cx="145.00" cy="490.30" r="1.35"/><circle cx="145.00" cy="504.70" r="1.35"/><circle cx="145.00" cy="518.80" r="1.35"/><circle cx="159.50" cy="528.20" r="1.35"/><circle cx="159.50" cy="533.10" r="1.35"/><circle cx="159.50" cy="536.20" r="1.35"/><circle cx="159.50" cy="538.50" r="1.35"/><circle cx="170.50" cy="524.30" r="1.35"/><circle cx="177.60" cy="524.30" r="1.35"/><circle cx="173.70" cy="526.90" r="1.35"/><circle cx="170.50" cy="531.80" r="1.35"/><circle cx="177.60" cy="531.80" r="1.35"/></g>
<path d="M53.40 454.00V540.50H183.60" stroke="#1e1e1e" stroke-width="1.3" fill="none"/>
<path d="M50.50 540.50H53.40" stroke="#1e1e1e" stroke-width="1.1"/>
<text stroke="#222" stroke-width="0.22" x="45.66" y="542.54" font-size="5.90" font-weight="bold" fill="#222">0</text>
<path d="M50.50 518.88H53.40" stroke="#1e1e1e" stroke-width="1.1"/>
<text stroke="#222" stroke-width="0.22" x="45.66" y="520.94" font-size="5.90" font-weight="bold" fill="#222">2</text>
<path d="M50.50 497.25H53.40" stroke="#1e1e1e" stroke-width="1.1"/>
<text stroke="#222" stroke-width="0.22" x="45.46" y="499.29" font-size="5.90" font-weight="bold" fill="#222">4</text>
<path d="M50.50 475.62H53.40" stroke="#1e1e1e" stroke-width="1.1"/>
<text stroke="#222" stroke-width="0.22" x="45.63" y="477.66" font-size="5.90" font-weight="bold" fill="#222">6</text>
<path d="M50.50 454.00H53.40" stroke="#1e1e1e" stroke-width="1.1"/>
<text stroke="#222" stroke-width="0.22" x="45.60" y="456.04" font-size="5.90" font-weight="bold" fill="#222">8</text>
<path d="M84.30 540.50V544.00" stroke="#1e1e1e" stroke-width="1.1"/>
<path d="M152.40 540.50V544.00" stroke="#1e1e1e" stroke-width="1.1"/>
<text stroke="#1a1a1a" stroke-width="0.22" x="74.80" y="553.00" font-size="8.10" font-weight="bold" fill="#1a1a1a">week1</text>
<text stroke="#1a1a1a" stroke-width="0.22" x="141.20" y="552.97" font-size="8.04" font-weight="bold" fill="#1a1a1a">week2</text>
<text stroke="#000" stroke-width="0.22" x="104.28" y="392.01" font-size="14.20" font-weight="bold" font-style="italic" fill="#000">Arg1</text>
<text stroke="#111" stroke-width="0.22" transform="translate(29.40,538.28) rotate(-90)" x="0" y="0" font-size="9.60" font-weight="bold" fill="#111">mRNA expression</text>
<text stroke="#111" stroke-width="0.22" transform="translate(41.10,527.24) rotate(-90)" x="0" y="0" font-size="9.60" font-weight="bold" fill="#111">(fold change)</text>
<path d="M77.80 465.50H92.50" stroke="#2a2a2a" stroke-width="1.1"/>
<text stroke="#111" stroke-width="0.22" x="77.20" y="465.41" font-size="12.50" font-weight="bold" fill="#111" letter-spacing="0.64">***</text>
<path d="M92.50 447.50H106.70" stroke="#2a2a2a" stroke-width="1.1"/>
<text stroke="#111" stroke-width="0.22" x="97.16" y="447.41" font-size="12.50" font-weight="bold" fill="#111" letter-spacing="0.64">*</text>
<path d="M145.30 447.50H173.60" stroke="#2a2a2a" stroke-width="1.1"/>
<text stroke="#111" stroke-width="0.22" x="148.77" y="447.01" font-size="12.50" font-weight="bold" fill="#111" letter-spacing="0.64">****</text>
<path d="M143.10 465.50H159.30" stroke="#2a2a2a" stroke-width="1.1"/>
<text stroke="#111" stroke-width="0.22" x="140.52" y="465.01" font-size="12.50" font-weight="bold" fill="#111" letter-spacing="0.64">****</text>
<path d="M262.20 540.50V535.90H269.80V540.50" fill="#fff" stroke="#c64cf2" stroke-width="1.8"/>
<path d="M277.00 540.50V529.40H284.60V540.50" fill="#fff" stroke="#3cd63c" stroke-width="1.8"/>
<path d="M291.80 540.50V485.40H299.40V540.50" fill="#fff" stroke="#2222ea" stroke-width="1.8"/>
<path d="M306.40 540.50V512.70H314.00V540.50" fill="#fff" stroke="#ee3b3b" stroke-width="1.8"/>
<path d="M330.40 540.50V535.80H338.00V540.50" fill="#fff" stroke="#c64cf2" stroke-width="1.8"/>
<path d="M345.20 540.50V524.10H352.80V540.50" fill="#fff" stroke="#3cd63c" stroke-width="1.8"/>
<path d="M359.70 540.50V536.10H367.30V540.50" fill="#fff" stroke="#2222ea" stroke-width="1.8"/>
<path d="M374.20 540.50V532.60H381.80V540.50" fill="#fff" stroke="#ee3b3b" stroke-width="1.8"/>
<path d="M266.00 533.50V536.50M263.40 533.50H268.60M263.40 536.50H268.60" stroke="#d58cf2" stroke-width="1.1" fill="none"/>
<path d="M280.80 524.30V532.70M278.20 524.30H283.40M278.20 532.70H283.40" stroke="#86e486" stroke-width="1.1" fill="none"/>
<path d="M295.60 477.80V489.40M293.00 477.80H298.20M293.00 489.40H298.20" stroke="#6b6bf0" stroke-width="1.1" fill="none"/>
<path d="M310.20 504.30V518.50M307.60 504.30H312.80M307.60 518.50H312.80" stroke="#f28a8a" stroke-width="1.1" fill="none"/>
<path d="M334.20 533.50V536.30M331.60 533.50H336.80M331.60 536.30H336.80" stroke="#d58cf2" stroke-width="1.1" fill="none"/>
<path d="M349.00 515.70V529.30M346.40 515.70H351.60M346.40 529.30H351.60" stroke="#86e486" stroke-width="1.1" fill="none"/>
<path d="M363.50 534.50V535.90M360.90 534.50H366.10M360.90 535.90H366.10" stroke="#6b6bf0" stroke-width="1.1" fill="none"/>
<path d="M378.00 529.50V533.90M375.40 529.50H380.60M375.40 533.90H380.60" stroke="#f28a8a" stroke-width="1.1" fill="none"/>
<g fill="#fff" fill-opacity="0.6" stroke="#333" stroke-width="0.75"><circle cx="264.50" cy="531.80" r="1.35"/><circle cx="268.10" cy="531.80" r="1.35"/><circle cx="262.50" cy="536.60" r="1.35"/><circle cx="266.40" cy="536.00" r="1.35"/><circle cx="270.30" cy="536.20" r="1.35"/><circle cx="280.90" cy="518.50" r="1.35"/><circle cx="280.90" cy="526.30" r="1.35"/><circle cx="277.40" cy="533.40" r="1.35"/><circle cx="284.50" cy="533.10" r="1.35"/><circle cx="291.90" cy="474.90" r="1.35"/><circle cx="299.10" cy="473.20" r="1.35"/><circle cx="295.50" cy="487.50" r="1.35"/><circle cx="295.50" cy="499.10" r="1.35"/><circle cx="310.00" cy="490.30" r="1.35"/><circle cx="310.00" cy="511.40" r="1.35"/><circle cx="310.00" cy="519.80" r="1.35"/><circle cx="310.00" cy="523.00" r="1.35"/><circle cx="332.60" cy="531.70" r="1.35"/><circle cx="336.20" cy="531.70" r="1.35"/><circle cx="330.50" cy="535.90" r="1.35"/><circle cx="334.10" cy="535.50" r="1.35"/><circle cx="337.60" cy="535.50" r="1.35"/><circle cx="349.00" cy="501.90" r="1.35"/><circle cx="345.40" cy="527.00" r="1.35"/><circle cx="352.50" cy="529.30" r="1.35"/><circle cx="349.00" cy="532.40" r="1.35"/><circle cx="359.60" cy="535.50" r="1.35"/><circle cx="362.40" cy="534.50" r="1.35"/><circle cx="365.30" cy="535.20" r="1.35"/><circle cx="367.40" cy="534.90" r="1.35"/><circle cx="378.00" cy="525.30" r="1.35"/><circle cx="374.50" cy="530.70" r="1.35"/><circle cx="378.00" cy="532.40" r="1.35"/><circle cx="381.60" cy="532.10" r="1.35"/><circle cx="378.00" cy="536.40" r="1.35"/></g>
<path d="M256.30 452.70V540.50H388.00" stroke="#1e1e1e" stroke-width="1.3" fill="none"/>
<path d="M253.60 540.50H256.30" stroke="#1e1e1e" stroke-width="1.1"/>
<text stroke="#222" stroke-width="0.22" x="248.50" y="542.71" font-size="6.40" font-weight="bold" fill="#222">0</text>
<path d="M253.60 518.55H256.30" stroke="#1e1e1e" stroke-width="1.1"/>
<text stroke="#222" stroke-width="0.22" x="248.50" y="520.79" font-size="6.40" font-weight="bold" fill="#222">2</text>
<path d="M253.60 496.60H256.30" stroke="#1e1e1e" stroke-width="1.1"/>
<text stroke="#222" stroke-width="0.22" x="248.28" y="498.81" font-size="6.40" font-weight="bold" fill="#222">4</text>
<path d="M253.60 474.65H256.30" stroke="#1e1e1e" stroke-width="1.1"/>
<text stroke="#222" stroke-width="0.22" x="248.47" y="476.86" font-size="6.40" font-weight="bold" fill="#222">6</text>
<path d="M253.60 452.70H256.30" stroke="#1e1e1e" stroke-width="1.1"/>
<text stroke="#222" stroke-width="0.22" x="248.44" y="454.91" font-size="6.40" font-weight="bold" fill="#222">8</text>
<path d="M288.10 540.50V544.00" stroke="#1e1e1e" stroke-width="1.1"/>
<path d="M356.40 540.50V544.00" stroke="#1e1e1e" stroke-width="1.1"/>
<text stroke="#1a1a1a" stroke-width="0.22" x="276.10" y="553.21" font-size="8.00" font-weight="bold" fill="#1a1a1a">week1</text>
<text stroke="#1a1a1a" stroke-width="0.22" x="342.00" y="553.33" font-size="8.34" font-weight="bold" fill="#1a1a1a">week2</text>
<text stroke="#000" stroke-width="0.22" x="314.32" y="393.21" font-size="13.88" font-weight="bold" font-style="italic" fill="#000">Il10</text>
<text stroke="#111" stroke-width="0.22" transform="translate(234.80,538.07) rotate(-90)" x="0" y="0" font-size="9.90" font-weight="bold" fill="#111">mRNA expression</text>
<text stroke="#111" stroke-width="0.22" transform="translate(247.00,526.69) rotate(-90)" x="0" y="0" font-size="9.90" font-weight="bold" fill="#111">(fold change)</text>
<path d="M266.40 407.50H310.00" stroke="#2a2a2a" stroke-width="1.1"/>
<text stroke="#111" stroke-width="0.22" x="283.00" y="407.61" font-size="12.50" font-weight="bold" fill="#111" letter-spacing="0.64">**</text>
<path d="M281.00 426.50H310.00" stroke="#2a2a2a" stroke-width="1.1"/>
<text stroke="#111" stroke-width="0.22" x="293.06" y="426.41" font-size="12.50" font-weight="bold" fill="#111" letter-spacing="0.64">*</text>
<path d="M281.00 444.50H295.50" stroke="#2a2a2a" stroke-width="1.1"/>
<text stroke="#111" stroke-width="0.22" x="277.57" y="444.11" font-size="12.50" font-weight="bold" fill="#111" letter-spacing="0.64">****</text>
<path d="M295.20 463.50H310.30" stroke="#2a2a2a" stroke-width="1.1"/>
<text stroke="#111" stroke-width="0.22" x="294.80" y="463.01" font-size="12.50" font-weight="bold" fill="#111" letter-spacing="0.64">***</text>
<rect x="408.65" y="456.80" width="7.60" height="3.60" fill="#fff" stroke="#c77cf7" stroke-width="1.5"/>
<text stroke="#1e1e1e" stroke-width="0.12" x="422.33" y="461.17" font-size="7.20"  fill="#1e1e1e">normal</text>
<rect x="408.65" y="468.90" width="7.60" height="3.60" fill="#fff" stroke="#44e044" stroke-width="1.5"/>
<text stroke="#1e1e1e" stroke-width="0.12" x="422.48" y="473.27" font-size="7.20"  fill="#1e1e1e">control</text>
<rect x="408.65" y="480.50" width="7.60" height="3.60" fill="#fff" stroke="#2222ea" stroke-width="1.5"/>
<text stroke="#1e1e1e" stroke-width="0.12" x="422.22" y="484.78" font-size="7.20"  fill="#1e1e1e">MSC</text>
<rect x="408.65" y="489.70" width="7.60" height="3.60" fill="#fff" stroke="#ee3b3b" stroke-width="1.5"/>
<text stroke="#1e1e1e" stroke-width="0.12" x="422.22" y="493.98" font-size="7.20"  fill="#1e1e1e">MSC</text>
<text stroke="#333" stroke-width="0.12" x="438.32" y="490.68" font-size="4.85" fill="#333">IFN-γ+LPS</text>
</svg>
</body></html>
